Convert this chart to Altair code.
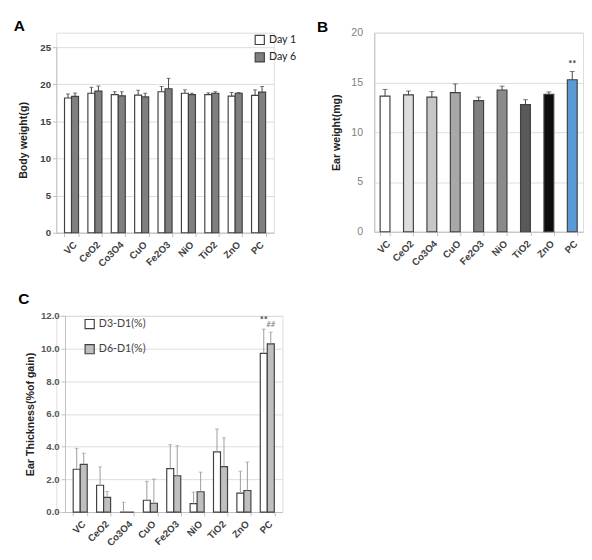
import altair as alt
import pandas as pd

categories = ["VC", "CeO2", "Co3O4", "CuO", "Fe2O3", "NiO", "TiO2", "ZnO", "PC"]

# Panel A: body weight (g)
bw_day1 = [18.15, 18.8, 18.6, 18.55, 19.0, 18.8, 18.6, 18.4, 18.5]
bw_day1_err = [0.55, 0.8, 0.4, 0.65, 0.7, 0.45, 0.25, 0.5, 0.75]
bw_day6 = [18.37, 19.07, 18.45, 18.3, 19.4, 18.6, 18.8, 18.8, 18.95]
bw_day6_err = [0.45, 0.7, 0.55, 0.5, 1.4, 0.2, 0.2, 0.1, 0.75]

# Panel B: ear weight (mg)
ear_w = [13.62, 13.76, 13.53, 13.98, 13.17, 14.24, 12.78, 13.82, 15.27]
ear_w_err = [0.68, 0.38, 0.55, 0.87, 0.36, 0.39, 0.49, 0.23, 0.83]
ear_w_colors = ["#ffffff", "#dcdcdc", "#c6c6c6", "#a8a8a8", "#7f7f7f",
                "#8a8a8a", "#595959", "#0d0d0d", "#5b9bd5"]

# Panel C: ear thickness (% of gain)
d3 = [2.62, 1.64, 0.0, 0.72, 2.66, 0.52, 3.68, 1.16, 9.71]
d3_err = [1.28, 1.12, 0.6, 1.16, 1.46, 0.7, 1.4, 1.34, 1.48]
d6 = [2.92, 0.9, 0.0, 0.54, 2.22, 1.24, 2.78, 1.32, 10.29]
d6_err = [0.68, 0.36, 0.0, 1.48, 1.84, 1.2, 1.76, 1.74, 0.71]

sig_b_cat = ["PC"]
sig_b_y = [16.8]
sig_b_label = ["**"]
sig_c_series = ["D3-D1(%)", "D6-D1(%)"]
sig_c_y = [11.75, 11.45]
sig_c_label = ["**", "##"]

FONT = "Lato"
EDGE = "#404040"
AXC = "#bfbfbf"

dfA = pd.DataFrame({
    "cat": categories * 2,
    "series": ["Day 1"] * 9 + ["Day 6"] * 9,
    "value": bw_day1 + bw_day6,
    "err": bw_day1_err + bw_day6_err,
})
dfB = pd.DataFrame({"cat": categories, "value": ear_w, "err": ear_w_err})
dfC = pd.DataFrame({
    "cat": categories * 2,
    "series": ["D3-D1(%)"] * 9 + ["D6-D1(%)"] * 9,
    "value": d3 + d6,
    "err": d3_err + d6_err,
})
dfSB = pd.DataFrame({"cat": sig_b_cat, "y": sig_b_y, "label": sig_b_label})
dfSC = pd.DataFrame({"cat": ["PC", "PC"], "series": sig_c_series, "y": sig_c_y, "label": sig_c_label})


def xaxis():
    return alt.Axis(title=None, labelAngle=-45, tickBand="extent", labelFontWeight="bold",
                    labelColor="#404040", labelFontSize=10, domainColor=AXC, tickColor=AXC,
                    tickSize=4, labelPadding=3)


def panel_title(t, dx, offset):
    return alt.Title(t, anchor="start", fontSize=16, font="Liberation Sans", fontWeight="bold",
                     color="#000000", dx=dx, offset=offset)


def yenc(field, scale, axis):
    return alt.Y(field, scale=scale, axis=axis)


# ---------- Panel A ----------
A_H = 207
xA = alt.X("cat:N", sort=categories, scale=alt.Scale(paddingInner=0.4, paddingOuter=0.35), axis=xaxis())
oA = alt.XOffset("series:N", scale=alt.Scale(paddingInner=0, paddingOuter=0))
sA = alt.Scale(domain=[0, 25], range=[A_H, 15])
axA = alt.Axis(title="Body weight(g)", values=[0, 5, 10, 15, 20, 25], format="d", labelOverlap=False,
               labelFontWeight="bold", labelColor="#404040", labelFontSize=10,
               titleFontSize=11, titleFontWeight="bold", titleColor="#222222",
               domainColor=AXC, tickColor=AXC, tickSize=4, titlePadding=12)
baseA = alt.Chart(dfA).transform_calculate(top="datum.value + datum.err")
barsA = baseA.mark_bar(stroke=EDGE, strokeWidth=1.2).encode(
    x=xA, xOffset=oA, y=yenc("value:Q", sA, axA),
    color=alt.Color("series:N", scale=alt.Scale(domain=["Day 1", "Day 6"], range=["#ffffff", "#7f7f7f"]),
                    legend=alt.Legend(title=None, orient="none", legendX=205, legendY=2,
                                      symbolType="square", symbolSize=90, symbolStrokeColor=EDGE,
                                      symbolStrokeWidth=1.2, labelFont=FONT, labelFontSize=11,
                                      labelColor="#222222", rowPadding=3)))
ruleA = baseA.mark_rule(color=EDGE, strokeWidth=1).encode(
    x=xA, xOffset=oA, y=yenc("value:Q", sA, axA), y2="top:Q")
capA = baseA.mark_tick(color=EDGE, thickness=1, size=4).encode(
    x=xA, xOffset=oA, y=yenc("top:Q", sA, axA))
chartA = alt.layer(barsA, ruleA, capA).properties(width=225, height=A_H, title=panel_title("A", -4, -1))

# ---------- Panel B ----------
xB = alt.X("cat:N", sort=categories, scale=alt.Scale(paddingInner=0.58, paddingOuter=0.25), axis=xaxis())
sB = alt.Scale(domain=[0, 20])
axB = alt.Axis(title="Ear weight(mg)", values=[0, 5, 10, 15, 20], format="d", labelOverlap=False,
               labelColor="#7f7f7f", labelFontSize=11,
               titleFontSize=11, titleFontWeight="bold", titleColor="#222222",
               domainColor=AXC, tickColor=AXC, tickSize=0, titlePadding=10, labelPadding=12)
baseB = alt.Chart(dfB).transform_calculate(top="datum.value + datum.err")
barsB = baseB.mark_bar(stroke=EDGE, strokeWidth=1.2).encode(
    x=xB, y=yenc("value:Q", sB, axB),
    color=alt.Color("cat:N", sort=categories, scale=alt.Scale(domain=categories, range=ear_w_colors), legend=None))
ruleB = baseB.mark_rule(color=EDGE, strokeWidth=1).encode(x=xB, y=yenc("value:Q", sB, axB), y2="top:Q")
capB = baseB.mark_tick(color=EDGE, thickness=1, size=5).encode(x=xB, y=yenc("top:Q", sB, axB))
sigB = alt.Chart(dfSB).mark_text(font=FONT, fontSize=10, fontWeight="bold", color="#404040").encode(
    x=xB, y=yenc("y:Q", sB, axB), text="label:N")
chartB = alt.layer(barsB, ruleB, capB, sigB).properties(width=216, height=206, title=panel_title("B", -14, -8))

# ---------- Panel C ----------
C_W = 234
xC = alt.X("cat:N", sort=categories, scale=alt.Scale(paddingInner=0.4, paddingOuter=0.35, range=[9, C_W]),
           axis=xaxis())
oC = alt.XOffset("series:N", scale=alt.Scale(paddingInner=0, paddingOuter=0))
sC = alt.Scale(domain=[0, 12])
axC = alt.Axis(title="Ear Thickness(%of gain)", values=[0, 2, 4, 6, 8, 10, 12], format=".1f",
               labelOverlap=False, labelColor="#595959", labelFontSize=10, labelFontWeight="bold",
               titleFontSize=11, titleFontWeight="bold", titleColor="#222222", offset=-9,
               domainColor=AXC, tickColor=AXC, tickSize=4, titlePadding=5)
baseC = alt.Chart(dfC).transform_calculate(top="datum.value + datum.err")
barsC = baseC.mark_bar(stroke=EDGE, strokeWidth=1.2).encode(
    x=xC, xOffset=oC, y=yenc("value:Q", sC, axC),
    color=alt.Color("series:N", scale=alt.Scale(domain=["D3-D1(%)", "D6-D1(%)"], range=["#ffffff", "#bfbfbf"]),
                    legend=alt.Legend(title=None, orient="none", legendX=29, legendY=3,
                                      symbolType="square", symbolSize=90, symbolStrokeColor=EDGE,
                                      symbolStrokeWidth=1.2, labelFont=FONT, labelFontSize=11,
                                      labelColor="#404040", rowPadding=11)))
errC = baseC.transform_filter("datum.err > 0")
ruleC = errC.mark_rule(color="#9a9a9a", strokeWidth=1).encode(
    x=xC, xOffset=oC, y=yenc("value:Q", sC, axC), y2="top:Q")
capC = errC.mark_tick(color="#9a9a9a", thickness=1, size=4).encode(
    x=xC, xOffset=oC, y=yenc("top:Q", sC, axC))
sigC1 = alt.Chart(dfSC).transform_filter("datum.label == '**'").mark_text(
    font=FONT, fontSize=10, fontWeight="bold", color="#404040").encode(
    x=xC, xOffset=oC, y=yenc("y:Q", sC, axC), text="label:N")
sigC2 = alt.Chart(dfSC).transform_filter("datum.label == '##'").mark_text(
    font=FONT, fontSize=8, fontStyle="italic", color="#7f7f7f").encode(
    x=xC, xOffset=oC, y=yenc("y:Q", sC, axC), text="label:N")
chartC = alt.layer(barsC, ruleC, capC, sigC1, sigC2).properties(
    width=C_W, height=203, title=panel_title("C", -7, 4))

chart = alt.concat(chartA, chartB, chartC, columns=2,
                   spacing=alt.RowColnumber(row=22, column=19)).resolve_scale(
    color="independent", xOffset="independent").properties(
    padding={"left": 5, "top": 0, "right": 0, "bottom": 0}).configure_view(
    stroke=None).configure_axis(grid=False, labelFont=FONT, titleFont=FONT).configure(background="#ffffff")

chart.save("out.html", embed_options={"renderer": "svg", "actions": False})
